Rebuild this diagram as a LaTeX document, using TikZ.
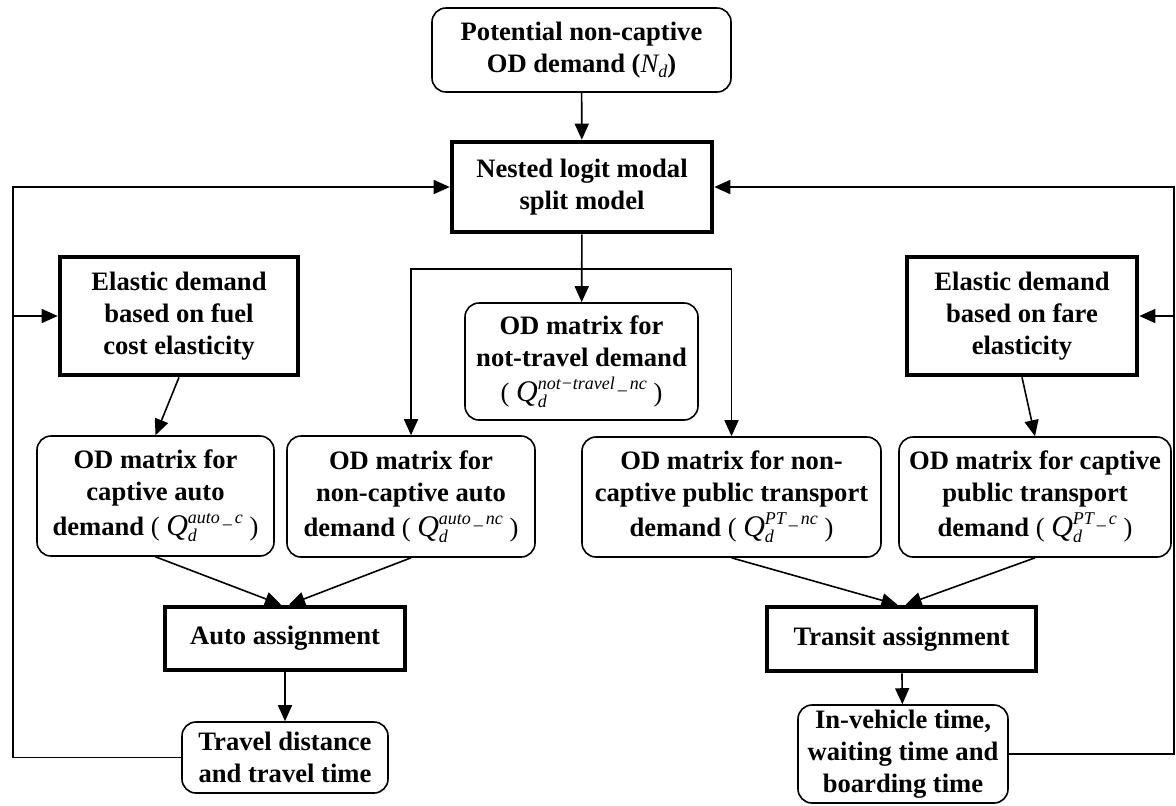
\documentclass[tikz,border=0pt]{standalone}
\usepackage{fontspec}
\setmainfont{Liberation Serif}
\usepackage{tikz}
\usetikzlibrary{calc,arrows.meta}

\newcommand{\Qd}[1]{{\mdseries\itshape{\fontsize{15}{16}\selectfont Q}\rlap{\raisebox{-0.5ex}{\small d}}\raisebox{1.0ex}{\small #1}}}
\newcommand{\Nd}{{\mdseries\itshape N\raisebox{-0.4ex}{\small d}}}

\tikzset{
  rbox/.style={draw, rounded corners=7pt, line width=0.8pt, align=center, inner sep=0pt},
  tbox/.style={draw, line width=2.3pt, align=center, inner sep=0pt},
  arr/.style={line width=0.8pt, -{Triangle[length=8pt,width=7pt]}},
  lin/.style={line width=0.8pt}
}

\begin{document}
\begin{tikzpicture}[x=0.5pt,y=-0.5pt,font=\fontsize{13.3}{16}\selectfont\bfseries]
        \useasboundingbox (0,0) rectangle (1176,805);
        % top of the chart
        \node[rbox, minimum width=149.5pt, minimum height=42pt] (pot) at (581.5,50) {Potential non-captive\\OD demand (\Nd)};
        \node[tbox, minimum width=130pt, minimum height=45pt] (nest) at (582,187) {Nested logit modal\\split model};
        \node[tbox, minimum width=119pt, minimum height=59pt] (fuel) at (179,316) {Elastic demand\\based on fuel\\cost elasticity};
        \node[tbox, minimum width=115pt, minimum height=59pt] (fare) at (1022,316) {Elastic demand\\based on fare\\elasticity};
        \node[rbox, minimum width=116.5pt, minimum height=58.5pt] (notr) at (581.5,361.5) {OD matrix for\\not-travel demand\\[1.5pt]{\mdseries(} \Qd{not−travel\,\_\,nc} {\mdseries)}};
        % OD matrices
        \node[rbox, minimum width=118.5pt, minimum height=60pt] (capa) at (155.5,496) {OD matrix for\\captive auto\\[1.5pt]demand {\mdseries(} \Qd{auto\,\_\,c} {\mdseries)}};
        \node[rbox, minimum width=124pt, minimum height=60.5pt] (ncaa) at (411,496.5) {OD matrix for\\non-captive auto\\[1.5pt]demand {\mdseries(} \Qd{auto\,\_\,nc} {\mdseries)}};
        \node[rbox, minimum width=149.5pt, minimum height=60pt] (ncpt) at (731.5,497) {OD matrix for non-\\captive public transport\\[1.5pt]demand {\mdseries(} \Qd{PT\,\_\,nc} {\mdseries)}};
        \node[rbox, minimum width=136pt, minimum height=60pt] (cpt) at (1035,497) {OD matrix for captive\\public transport\\[1.5pt]demand {\mdseries(} \Qd{PT\,\_\,c} {\mdseries)}};
        % assignments
        \node[tbox, minimum width=120pt, minimum height=31.5pt] (auto) at (285,638.5) {Auto assignment};
        \node[tbox, minimum width=134.5pt, minimum height=32pt] (tran) at (901.5,639) {Transit assignment};
        \node[rbox, minimum width=103pt, minimum height=35.5pt] (trav) at (285,757.5) {Travel distance\\and travel time};
        \node[rbox, minimum width=105pt, minimum height=49pt] (inv) at (903,754) {In-vehicle time,\\waiting time and\\boarding time};

        \coordinate (br) at (582,269);
        \coordinate (lft) at (13,0);
        \coordinate (rgt) at (1174,0);

        \draw[arr] (pot) -- (nest);
        \draw[arr] (nest) -- (notr);
        \draw[arr] (br) -| (ncaa.north);
        \draw[arr] (br) -| (ncpt.north);
        \draw[arr] (fuel.south) -- (capa.north);
        \draw[arr] (fare.south) -- (cpt.north);
        \draw[arr] (capa.south) -- ($(auto.north)+(-4,0)$);
        \draw[arr] (ncaa.south) -- ($(auto.north)+(4,0)$);
        \draw[arr] (ncpt.south) -- ($(tran.north)+(-4,0)$);
        \draw[arr] (cpt.south) -- ($(tran.north)+(4,0)$);
        \draw[arr] (auto) -- (trav);
        \draw[arr] (tran) -- (inv);
        % feedback loops
        \draw[arr] (trav.west) -- (trav.west -| lft) |- (nest.west);
        \draw[arr] (lft |- fuel.west) -- (fuel.west);
        \draw[arr] (inv.east) -- (inv.east -| rgt) |- (nest.east);
        \draw[arr] (rgt |- fare.east) -- (fare.east);
    \end{tikzpicture}
\end{document}
